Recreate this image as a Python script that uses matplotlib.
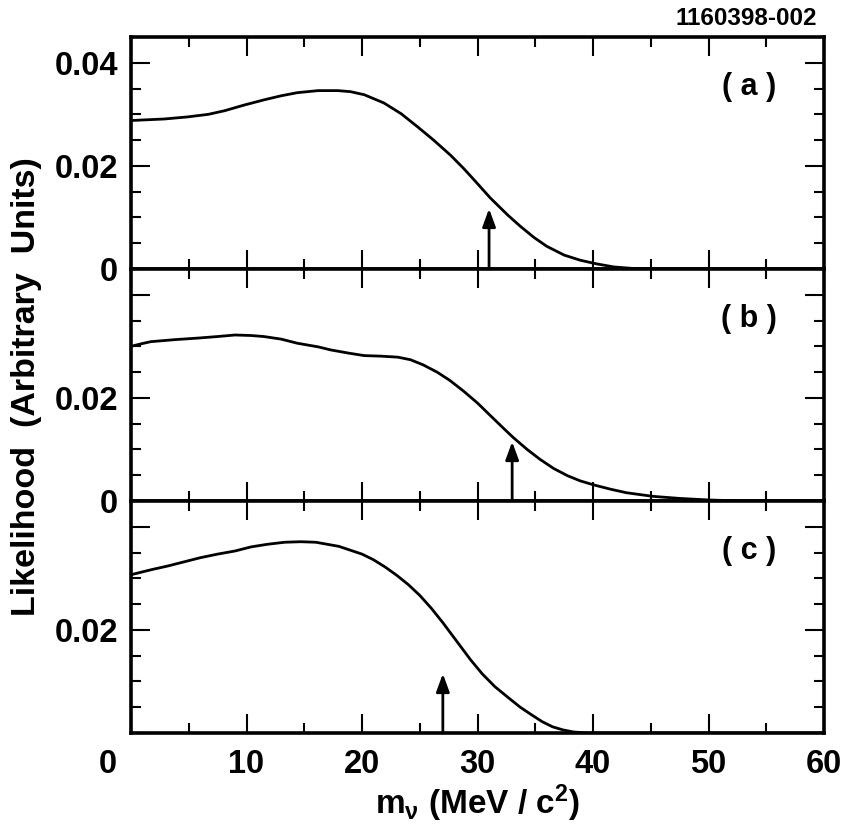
import numpy as np
import matplotlib
matplotlib.use("Agg")
import matplotlib.pyplot as plt
from matplotlib.ticker import MultipleLocator, FixedLocator, FixedFormatter
from matplotlib.transforms import ScaledTranslation

# ==================================================
# Data
# ==================================================

mass_a = [0, 2.9, 4.9, 6.7, 8.1, 9.8, 11.5, 13.0, 14.4, 16.2, 17.9, 19.0,
          20.2, 21.9, 23.4, 24.8, 26.2, 27.7, 28.8, 29.7, 31.1, 32.6, 33.7,
          34.9, 36.0, 37.5, 38.9, 40.3, 41.8, 43.5, 45.5, 60]
like_a = [0.0288, 0.0291, 0.0295, 0.0300, 0.0307, 0.0318, 0.0328, 0.0336,
          0.0342, 0.0346, 0.0346, 0.0344, 0.0338, 0.0322, 0.0301, 0.0276,
          0.0250, 0.0220, 0.0195, 0.0173, 0.0138, 0.0105, 0.0083, 0.0061,
          0.0044, 0.0027, 0.0017, 0.0010, 0.0004, 0.0001, 0.0, 0.0]

mass_b = [0, 0.9, 1.7, 3.8, 5.8, 7.5, 9.0, 10.4, 11.5, 13.0, 14.4, 16.2, 17.3,
          18.8, 20.2, 21.6, 23.1, 24.2, 25.3, 26.5, 27.6, 28.8, 30.0, 31.1,
          32.3, 33.1, 34.3, 35.4, 36.6, 37.8, 38.9, 40.1, 41.5, 42.9, 45.2,
          47.5, 50, 53, 60]
like_b = [0.0300, 0.0305, 0.0309, 0.0313, 0.0316, 0.0319, 0.0322, 0.0321,
          0.0319, 0.0314, 0.0306, 0.0299, 0.0293, 0.0287, 0.0282, 0.0281,
          0.0279, 0.0274, 0.0264, 0.0250, 0.0234, 0.0213, 0.0190, 0.0166,
          0.0140, 0.0123, 0.0100, 0.0081, 0.0063, 0.0049, 0.0039, 0.0031,
          0.0023, 0.0016, 0.0009, 0.0005, 0.0002, 0.0, 0.0]

mass_c = [0, 1.8, 3.2, 4.6, 6.0, 7.5, 9.0, 10.4, 11.8, 13.3, 14.7, 16, 18, 20,
          21, 22, 23, 24, 25, 26, 27, 28.4, 29.4, 30.4, 31.5, 32.7, 33.7, 34.7,
          35.6, 36.5, 37.4, 38.3, 39.5, 60]
like_c = [0.0307, 0.0317, 0.0324, 0.0332, 0.0340, 0.0347, 0.0353, 0.0361,
          0.0366, 0.0370, 0.0371, 0.0370, 0.0362, 0.0347, 0.0336, 0.0322,
          0.0306, 0.0288, 0.0267, 0.0242, 0.0214, 0.0172, 0.0142, 0.0115,
          0.0090, 0.0068, 0.0050, 0.0035, 0.0022, 0.0012, 0.0006, 0.0002,
          0.0, 0.0]

arrow_x = [31, 33, 27]
arrow_tip = [0.0117, 0.0115, 0.0115]

panel_names = ["( a )", "( b )", "( c )"]
ytick_vals = [0, 0.02, 0.04]
ytick_text = [["0", "0.02", "0.04"],
              ["0", "0.02", ""],
              ["", "0.02", ""]]
xtick_vals = [0, 10, 20, 30, 40, 50, 60]

# ==================================================
# Style
# ==================================================

plt.rcParams["font.family"] = ["Liberation Sans", "DejaVu Sans"]
plt.rcParams["font.weight"] = "bold"
plt.rcParams["mathtext.fontset"] = "custom"
plt.rcParams["mathtext.rm"] = "Liberation Sans:bold"
plt.rcParams["mathtext.it"] = "Liberation Sans:bold"
plt.rcParams["mathtext.bf"] = "Liberation Sans:bold"

fig = plt.figure(figsize=(8.55, 8.36), dpi=100)

left, width = 131 / 855, 693 / 855
top = 1 - 37 / 836
ph = (733 - 37) / 3 / 836

curves = [(mass_a, like_a), (mass_b, like_b), (mass_c, like_c)]
axes = []
for i, (mx, ly) in enumerate(curves):
    ax = fig.add_axes([left, top - (i + 1) * ph, width, ph])
    axes.append(ax)
    ax.plot(mx, ly, color="black", lw=2.0, solid_capstyle="round",
            solid_joinstyle="round")
    ax.annotate("", xy=(arrow_x[i], arrow_tip[i]), xytext=(arrow_x[i], 0),
                arrowprops=dict(arrowstyle="-|>,head_length=0.6,head_width=0.22",
                                mutation_scale=18, color="black", lw=2.0,
                                shrinkA=0, shrinkB=0))
    ax.text(0.892, 0.785, panel_names[i], transform=ax.transAxes,
            ha="center", va="center", fontsize=22, fontweight="bold")

    ax.set_xlim(0, 60)
    ax.set_ylim(0, 0.045)
    ax.xaxis.set_major_locator(FixedLocator(xtick_vals))
    ax.xaxis.set_minor_locator(MultipleLocator(5))
    ax.yaxis.set_major_locator(FixedLocator(ytick_vals))
    ax.yaxis.set_major_formatter(FixedFormatter(ytick_text[i]))
    ax.yaxis.set_minor_locator(MultipleLocator(0.005))

    ax.tick_params(which="both", direction="in", top=True, right=True,
                   width=1.5, labelsize=23.5)
    ax.tick_params(which="major", length=13.5)
    ax.tick_params(which="minor", length=7)
    ax.tick_params(axis="y", pad=9.5)
    ax.tick_params(axis="x", pad=11.5)
    for s in ax.spines.values():
        s.set_linewidth(2.6)
    if i < 2:
        ax.tick_params(axis="x", labelbottom=False)

# x-axis "0" sits a little left of its tick in the original
ax = axes[-1]
fig.canvas.draw()
lbl0 = ax.get_xticklabels()[0]
lbl0.set_transform(lbl0.get_transform() + ScaledTranslation(-0.23, 0, fig.dpi_scale_trans))

ax.set_xlabel(r"m$_{\nu}$ (MeV / c$^{2}$)", fontsize=24, fontweight="bold", labelpad=2)
fig.text(27 / 855, 1 - 387 / 836, "Likelihood  (Arbitrary  Units)", rotation=90,
         ha="center", va="center", fontsize=24.5, fontweight="bold")
fig.text(817 / 855, 1 - 25 / 836, "1160398-002", ha="right", va="baseline",
         fontsize=17.5, fontweight="bold")

fig.savefig("out.png", dpi=100)
